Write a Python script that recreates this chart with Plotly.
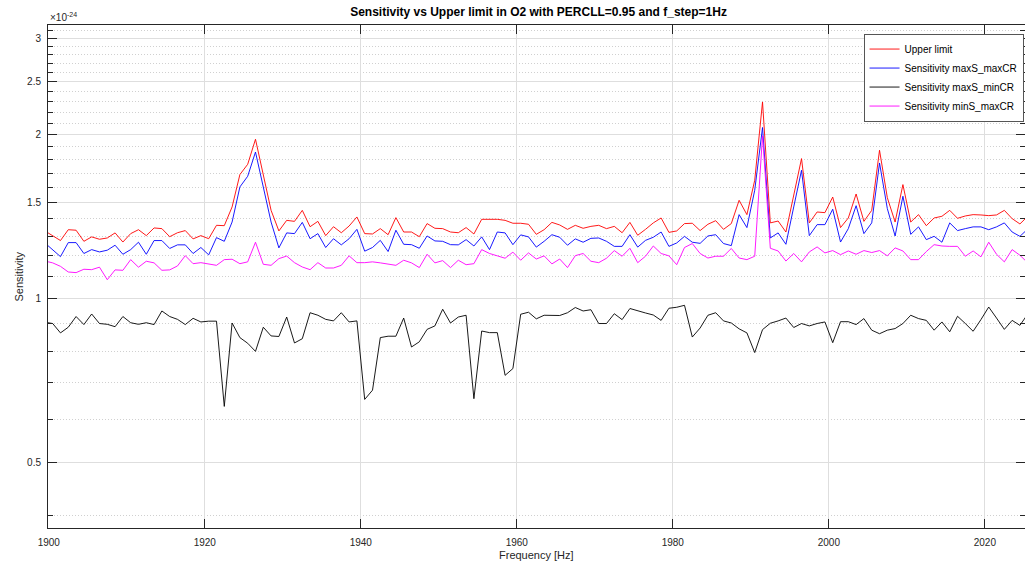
import numpy as np
import plotly.graph_objects as go

# Frequency bins (Hz), f_step = 1 Hz
freq = np.arange(1899.5, 2026.0, 1.0)

# Values in units of 1e-24
upper_limit = [
    1.331, 1.305, 1.278, 1.338, 1.335, 1.274, 1.298, 1.285, 1.292, 1.320,
    1.270, 1.316, 1.338, 1.305, 1.348, 1.344, 1.299, 1.321, 1.333, 1.287,
    1.305, 1.288, 1.363, 1.361, 1.473, 1.689, 1.764, 1.961, 1.689, 1.452,
    1.331, 1.392, 1.386, 1.452, 1.355, 1.386, 1.305, 1.355, 1.321, 1.359,
    1.412, 1.316, 1.314, 1.344, 1.310, 1.408, 1.325, 1.325, 1.299, 1.373,
    1.346, 1.344, 1.325, 1.321, 1.350, 1.314, 1.398, 1.398, 1.398, 1.392,
    1.375, 1.375, 1.369, 1.312, 1.338, 1.380, 1.365, 1.340, 1.363, 1.346,
    1.357, 1.363, 1.344, 1.357, 1.321, 1.380, 1.307, 1.340, 1.377, 1.406,
    1.323, 1.331, 1.373, 1.375, 1.333, 1.369, 1.390, 1.340, 1.373, 1.515,
    1.426, 1.649, 2.296, 1.377, 1.388, 1.325, 1.547, 1.807, 1.377, 1.442,
    1.438, 1.536, 1.350, 1.406, 1.556, 1.386, 1.452, 1.872, 1.532, 1.382,
    1.619, 1.382, 1.426, 1.361, 1.406, 1.416, 1.452, 1.404, 1.418, 1.426,
    1.424, 1.420, 1.424, 1.452, 1.402, 1.371, 1.416,
]

sens_maxS_maxCR = [
    1.265, 1.230, 1.194, 1.267, 1.267, 1.210, 1.230, 1.218, 1.227, 1.253,
    1.206, 1.230, 1.269, 1.206, 1.278, 1.278, 1.236, 1.255, 1.255, 1.210,
    1.241, 1.203, 1.294, 1.274, 1.382, 1.603, 1.677, 1.858, 1.601, 1.382,
    1.239, 1.320, 1.316, 1.380, 1.288, 1.316, 1.241, 1.288, 1.255, 1.288,
    1.340, 1.222, 1.241, 1.279, 1.220, 1.335, 1.258, 1.256, 1.237, 1.303,
    1.276, 1.274, 1.256, 1.255, 1.283, 1.249, 1.298, 1.230, 1.325, 1.320,
    1.256, 1.309, 1.298, 1.243, 1.274, 1.310, 1.296, 1.253, 1.287, 1.269,
    1.290, 1.292, 1.274, 1.247, 1.247, 1.310, 1.243, 1.279, 1.296, 1.325,
    1.247, 1.265, 1.301, 1.269, 1.263, 1.303, 1.310, 1.262, 1.251, 1.426,
    1.350, 1.581, 2.061, 1.292, 1.320, 1.258, 1.473, 1.720, 1.305, 1.367,
    1.367, 1.459, 1.270, 1.344, 1.481, 1.316, 1.377, 1.774, 1.463, 1.303,
    1.541, 1.312, 1.354, 1.283, 1.301, 1.269, 1.377, 1.333, 1.344, 1.354,
    1.354, 1.338, 1.354, 1.377, 1.325, 1.301, 1.342,
]

sens_maxS_minCR = [
    0.905, 0.900, 0.865, 0.886, 0.927, 0.896, 0.937, 0.900, 0.897, 0.888,
    0.927, 0.903, 0.897, 0.903, 0.896, 0.949, 0.927, 0.916, 0.896, 0.920,
    0.906, 0.909, 0.909, 0.634, 0.902, 0.848, 0.828, 0.800, 0.886, 0.854,
    0.852, 0.925, 0.829, 0.844, 0.942, 0.932, 0.916, 0.910, 0.942, 0.906,
    0.910, 0.653, 0.679, 0.848, 0.853, 0.853, 0.921, 0.815, 0.833, 0.878,
    0.891, 0.956, 0.902, 0.925, 0.932, 0.655, 0.872, 0.866, 0.866, 0.723,
    0.744, 0.936, 0.944, 0.918, 0.932, 0.932, 0.931, 0.942, 0.963, 0.949,
    0.954, 0.900, 0.900, 0.938, 0.915, 0.959, 0.949, 0.941, 0.933, 0.912,
    0.960, 0.964, 0.972, 0.850, 0.883, 0.932, 0.942, 0.910, 0.902, 0.880,
    0.865, 0.796, 0.877, 0.901, 0.910, 0.921, 0.885, 0.900, 0.891, 0.900,
    0.906, 0.830, 0.907, 0.907, 0.896, 0.919, 0.875, 0.862, 0.875, 0.881,
    0.900, 0.932, 0.919, 0.912, 0.875, 0.906, 0.869, 0.928, 0.900, 0.871,
    0.915, 0.965, 0.921, 0.878, 0.912, 0.893, 0.937,
]

sens_minS_maxCR = [
    1.172, 1.163, 1.146, 1.119, 1.116, 1.132, 1.130, 1.142, 1.083, 1.129,
    1.127, 1.179, 1.142, 1.171, 1.163, 1.127, 1.129, 1.148, 1.199, 1.159,
    1.164, 1.159, 1.151, 1.179, 1.181, 1.159, 1.168, 1.269, 1.156, 1.151,
    1.184, 1.197, 1.164, 1.143, 1.130, 1.164, 1.138, 1.138, 1.151, 1.198,
    1.164, 1.164, 1.168, 1.163, 1.158, 1.151, 1.176, 1.163, 1.140, 1.206,
    1.163, 1.174, 1.140, 1.176, 1.154, 1.159, 1.230, 1.210, 1.198, 1.186,
    1.217, 1.176, 1.213, 1.182, 1.198, 1.158, 1.182, 1.140, 1.199, 1.210,
    1.171, 1.164, 1.186, 1.225, 1.196, 1.237, 1.164, 1.196, 1.249, 1.210,
    1.198, 1.154, 1.241, 1.262, 1.210, 1.187, 1.196, 1.196, 1.236, 1.187,
    1.179, 1.196, 1.990, 1.237, 1.223, 1.172, 1.210, 1.168, 1.218, 1.244,
    1.213, 1.225, 1.204, 1.223, 1.206, 1.225, 1.215, 1.225, 1.198, 1.239,
    1.223, 1.179, 1.179, 1.220, 1.256, 1.249, 1.247, 1.247, 1.196, 1.223,
    1.193, 1.269, 1.206, 1.168, 1.230, 1.201, 1.163,
]

series = [
    ("Upper limit", upper_limit, "#ff0000"),
    ("Sensitivity maxS_maxCR", sens_maxS_maxCR, "#0000ff"),
    ("Sensitivity maxS_minCR", sens_maxS_minCR, "#000000"),
    ("Sensitivity minS_maxCR", sens_minS_maxCR, "#ff00ff"),
]

y_major = [0.5, 1, 1.5, 2, 2.5, 3]
y_minor = [0.4, 0.6, 0.7, 0.8, 0.9, 1.1, 1.2, 1.3, 1.4, 1.6, 1.7, 1.8, 1.9,
           2.1, 2.2, 2.3, 2.4, 2.6, 2.7, 2.8, 2.9, 3.1]
x_ticks = [1900, 1920, 1940, 1960, 1980, 2000, 2020]

FONT = "Liberation Sans, Arial, Helvetica, sans-serif"
AX = "#262626"

fig = go.Figure()
for name, vals, col in series:
    fig.add_trace(go.Scatter(x=freq, y=vals, mode="lines", name=name,
                             line=dict(color=col, width=0.9)))

fig.update_layout(
    width=1025, height=567,
    margin=dict(l=48, r=0, t=25, b=39),
    paper_bgcolor="white", plot_bgcolor="white",
    font=dict(family=FONT, size=10, color=AX),
    showlegend=True,
    legend=dict(x=0.9985, y=0.983, xanchor="right", yanchor="top",
                bgcolor="white", bordercolor="#555555", borderwidth=1,
                font=dict(size=10, color="#000000"), tracegroupgap=0,
                itemwidth=30),
    title=dict(text="<b>Sensitivity vs Upper limit in O2 with PERCLL=0.95 and f_step=1Hz</b>",
               x=0.5254, xanchor="center", y=0.979, yanchor="middle",
               font=dict(size=12, color="#000000", family=FONT)),
)

fig.update_xaxes(
    range=[1899.9, 2025.15], tickvals=x_ticks, ticktext=[str(t) for t in x_ticks],
    ticks="inside", ticklen=9, tickcolor=AX, tickwidth=1,
    showline=True, linecolor=AX, linewidth=1, mirror="ticks",
    showgrid=True, gridcolor="#dedede", gridwidth=1, zeroline=False,
    tickfont=dict(size=10, color=AX), ticklabelstandoff=5,
)
fig.update_yaxes(
    type="log", range=[-0.4211, 0.5022],
    tickvals=y_major, ticktext=["0.5", "1", "1.5", "2", "2.5", "3"],
    ticks="inside", ticklen=9, tickcolor=AX, tickwidth=1,
    showline=True, linecolor=AX, linewidth=1, mirror="ticks",
    showgrid=True, gridcolor="#dedede", gridwidth=1, zeroline=False,
    tickfont=dict(size=10, color=AX), ticklabelstandoff=4,
    minor=dict(tickmode="array", tickvals=y_minor, ticks="inside", ticklen=5,
               tickcolor=AX, showgrid=True, gridcolor="#d0d0d0",
               griddash="1px,2px", gridwidth=1),
)

fig.add_annotation(text="×10<sup>-24</sup>", xref="paper", yref="paper",
                   x=0, y=1, xanchor="left", yanchor="bottom", yshift=0,
                   showarrow=False, font=dict(size=10, color=AX, family=FONT))
fig.add_annotation(text="Frequency [Hz]", xref="paper", yref="paper",
                   x=0.5, y=0, xanchor="center", yanchor="middle", yshift=-27,
                   showarrow=False, font=dict(size=11, color=AX, family=FONT))
fig.add_annotation(text="Sensitivity", xref="paper", yref="paper",
                   x=0, y=0.5, xanchor="center", yanchor="middle", xshift=-30,
                   textangle=-90, showarrow=False,
                   font=dict(size=11, color=AX, family=FONT))

fig.write_html("out.html")
